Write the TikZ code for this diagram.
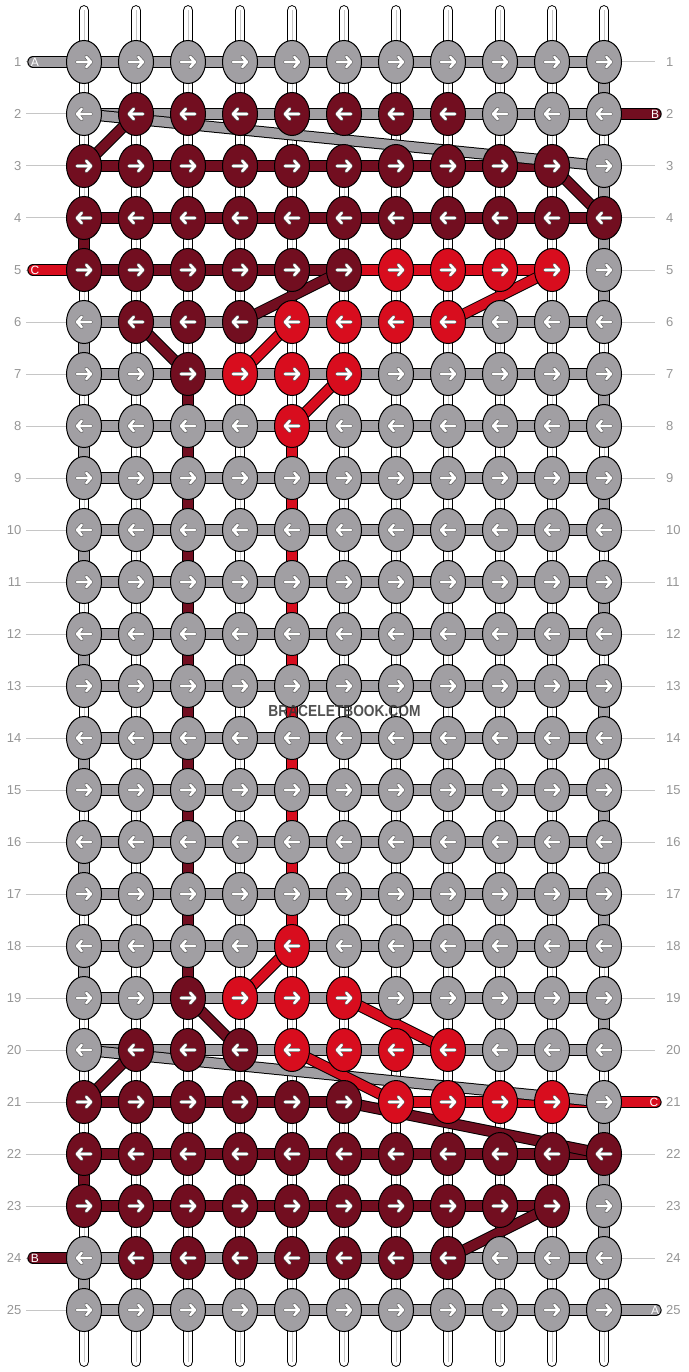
\documentclass[tikz,border=0pt]{standalone}
\usepackage{fontspec}
\setmainfont{Liberation Sans}
\usepackage{tikz}
\usetikzlibrary{shapes.geometric}

\definecolor{yarngray}{RGB}{161,159,163}
\definecolor{yarndark}{RGB}{114,14,32}
\definecolor{yarnred}{RGB}{216,13,30}
\definecolor{numgray}{RGB}{150,150,150}
\definecolor{guidegray}{RGB}{198,198,198}

\tikzset{
  thread/.style={draw=black, line width=1pt, double=#1, double distance=9.4pt},
  tailthread/.style={thread=#1, line cap=round},
  warpthread/.style={draw=black, line width=1pt, double=white, double distance=8.8pt, line cap=round},
  knot/.style={ellipse, draw=black, line width=1pt, minimum width=35pt, minimum height=43pt, inner sep=0pt},
  knotshade/.style={black!65, line width=3.8pt, line cap=round, line join=round},
  knotarrow/.style={white, line width=2.6pt, line cap=round, line join=round},
  rownum/.style={text=numgray, inner sep=0pt, font=\fontsize{13}{15}\selectfont},
  tailtag/.style={text=white, inner sep=0pt, font=\fontsize{12}{14}\selectfont},
}

\begin{document}
\begin{tikzpicture}[x=1pt, y=-1pt]

        \useasboundingbox (0,0) rectangle (688,1372);
        \fill[white] (0,0) rectangle (688,1372);

        \foreach \r in {1,...,25}
          \foreach \c in {1,...,11}
            \coordinate (k-\r-\c) at ({84+52*(\c-1)}, {62+52*(\r-1)});

        % guide lines and row numbers
        \foreach \r in {1,...,25} {
          \coordinate (gl-\r) at (26, {62+52*(\r-1)});
          \coordinate (gr-\r) at (655, {62+52*(\r-1)});
          \draw[guidegray, line width=1pt] (gl-\r) -- (gr-\r);
          \node[rownum, anchor=east] (numl-\r) at (21.5, {62+52*(\r-1)}) {\r};
          \node[rownum, anchor=west] (numr-\r) at (666, {62+52*(\r-1)}) {\r};
        }

        % warp
        \foreach \c in {1,...,11} {
          \coordinate (wt-\c) at ({84+52*(\c-1)}, 10.5);
          \coordinate (wb-\c) at ({84+52*(\c-1)}, 1361.5);
          \draw[warpthread] (wt-\c) -- (wb-\c);
          \draw[guidegray, line width=0.8pt] (wt-\c) -- (wb-\c);
        }

        % turns at the edges
        \foreach \r [evaluate=\r as \s using int(\r+1)] in {1,3,4,5,7,9,11,13,15,17,19,21,22,23}
          \draw[thread=yarngray] (k-\r-11) -- (k-\s-11);
        \foreach \r [evaluate=\r as \s using int(\r+1)] in {6,8,10,12,14,16,18,24}
          \draw[thread=yarngray] (k-\r-1) -- (k-\s-1);
        \foreach \r [evaluate=\r as \s using int(\r+1)] in {4,22}
          \draw[thread=yarndark] (k-\r-1) -- (k-\s-1);
        \draw[thread=yarndark] (k-7-3) -- (k-19-3);
        \draw[thread=yarnred] (k-8-5) -- (k-18-5);

        % rows
        \foreach \r/\a/\b/\col in {1/1/11/yarngray, 2/1/11/yarngray, 3/1/10/yarndark, 4/1/11/yarndark,
            5/1/6/yarndark, 5/6/10/yarnred, 21/1/6/yarndark, 22/1/11/yarndark, 23/1/10/yarndark,
            24/1/11/yarngray, 25/1/11/yarngray}
          \draw[thread=\col] (k-\r-\a) -- (k-\r-\b);
        \foreach \r in {6,...,20}
          \draw[thread=yarngray] (k-\r-1) -- (k-\r-11);

        % loose ends
        \coordinate (endA) at (33,62);
        \coordinate (endB) at (656,114);
        \coordinate (endC) at (33,270);
        \coordinate (endC2) at (656,1102);
        \coordinate (endB2) at (33,1258);
        \coordinate (endA2) at (656,1310);
        \draw[tailthread=yarngray] (endA) -- (k-1-1);
        \draw[tailthread=yarndark] (k-2-11) -- (endB);
        \draw[tailthread=yarnred] (endC) -- (k-5-1);
        \draw[tailthread=yarnred] (k-21-7) -- (endC2);
        \draw[tailthread=yarndark] (endB2) -- (k-24-1);
        \draw[tailthread=yarngray] (k-25-11) -- (endA2);

        % skips
        \foreach \a/\b/\col in {2-1/3-11/yarngray, 20-1/21-11/yarngray,
            2-2/3-1/yarndark, 3-10/4-11/yarndark, 5-6/6-4/yarndark, 5-10/6-8/yarnred,
            6-2/7-3/yarndark, 6-5/7-4/yarnred, 7-6/8-5/yarnred,
            18-5/19-4/yarnred, 19-3/20-4/yarndark, 19-6/20-8/yarnred,
            20-2/21-1/yarndark, 20-5/21-7/yarnred, 21-6/22-11/yarndark, 23-10/24-8/yarndark}
          \draw[thread=\col] (k-\a) -- (k-\b);

        % knots
        \foreach \r/\da/\db/\ra/\rb in {1/0/0/0/0, 2/2/8/0/0, 3/1/10/0/0, 4/1/11/0/0, 5/1/6/7/10,
            6/2/4/5/8, 7/3/3/4/6, 8/0/0/5/5, 9/0/0/0/0, 10/0/0/0/0, 11/0/0/0/0, 12/0/0/0/0,
            13/0/0/0/0, 14/0/0/0/0, 15/0/0/0/0, 16/0/0/0/0, 17/0/0/0/0, 18/0/0/5/5,
            19/3/3/4/6, 20/2/4/5/8, 21/1/6/7/10, 22/1/11/0/0, 23/1/10/0/0, 24/2/8/0/0, 25/0/0/0/0}
          \foreach \c in {1,...,11} {
            \def\kc{yarngray}
            \ifnum\c<\da\relax\else\ifnum\c>\db\relax\else\def\kc{yarndark}\fi\fi
            \ifnum\c<\ra\relax\else\ifnum\c>\rb\relax\else\def\kc{yarnred}\fi\fi
            \pgfmathtruncatemacro\dir{ifthenelse(mod(\r,2)==1,1,-1)}
            \node[knot, fill=\kc] (kn-\r-\c) at (k-\r-\c) {};
            \draw[knotshade, shift={(k-\r-\c)}, xscale=\dir] (-7,0) -- (7,0) (2.2,-5.2) -- (7,0) -- (2.2,5.2);
            \draw[knotarrow, shift={(k-\r-\c)}, xscale=\dir] (-7,0) -- (7,0) (2.2,-5.2) -- (7,0) -- (2.2,5.2);
          }

        \node[tailtag] (tagA) at (35,62) {A};
        \node[tailtag] (tagB) at (655,114) {B};
        \node[tailtag] (tagC) at (35,270) {C};
        \node[tailtag] (tagC2) at (654,1102) {C};
        \node[tailtag] (tagB2) at (35,1258) {B};
        \node[tailtag] (tagA2) at (655,1310) {A};

        \node[text=black!80, opacity=0.85, font=\bfseries\fontsize{16}{18}\selectfont] (mark) at (344.5,711) {\scalebox{0.86}[1]{BRACELETBOOK.COM}};

\end{tikzpicture}
\end{document}
